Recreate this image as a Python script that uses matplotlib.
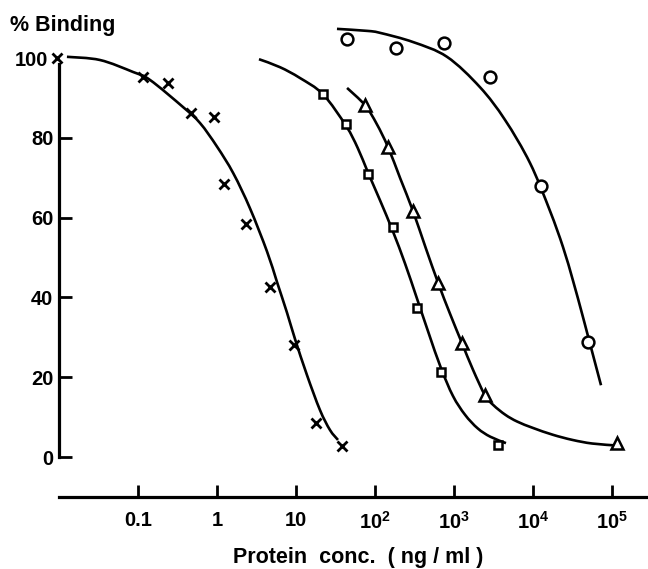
import matplotlib
matplotlib.use("Agg")
import matplotlib.pyplot as plt
from matplotlib.path import Path
from matplotlib.patches import PathPatch
import numpy as np

# ---- data ----
# crosses
cross_x = [0.0095, 0.116, 0.24, 0.47, 0.92, 1.23, 2.33, 4.7, 9.4, 17.9, 38]
cross_y = [100, 95.3, 93.8, 86.3, 85.3, 68.5, 58.5, 42.5, 28, 8.5, 2.75]
cross_curve_x = [0.0126, 0.033, 0.0865, 0.142, 0.372, 0.610, 1.0, 1.61, 2.62, 4.30,
                 5.74, 7.69, 9.71, 13.8, 20.1, 26.9, 34.0]
cross_curve_y = [100.3, 99.5, 96.5, 94.5, 87.7, 83.7, 77.8, 71.1, 62.3, 51.5,
                 43.9, 36.2, 29.6, 20.5, 11.8, 6.8, 4.3]

# squares
square_x = [22.0, 43.0, 81.5, 169, 340, 690, 3600]
square_y = [91, 83.5, 71, 57.6, 37.4, 21.3, 3]
square_curve_x = [3.40, 6.27, 11.2, 22.0, 43.0, 60.3, 81.5, 116, 169, 240, 339,
                  479, 684, 971, 1380, 1995, 2884, 4550]
square_curve_y = [99.7, 97.7, 95.0, 90.9, 83.0, 77.5, 71.3, 64.3, 56.5, 48.5, 39.8,
                  31.0, 22.3, 15.3, 10.6, 7.2, 5.1, 3.5]

# triangles
tri_x = [75, 146, 302, 630, 1260, 2460, 115000]
tri_y = [88.2, 77.7, 61.7, 43.6, 28.6, 15.5, 3.5]
tri_curve_x = [44.3, 74.6, 105, 146, 209, 302, 437, 631, 891, 1259, 1738, 2466,
               3162, 4467, 6310, 10000, 17800, 31600, 56200, 115600]
tri_curve_y = [92.5, 88.2, 83.5, 77.7, 69.8, 61.7, 52.5, 43.6, 35.9, 28.6, 21.9,
               15.5, 13.0, 10.6, 8.9, 7.3, 5.6, 4.3, 3.4, 2.9]

# circles
circ_x = [44, 184, 747, 2860, 12600, 49700]
circ_y = [104.8, 102.5, 103.8, 95.2, 68.0, 28.8]
circ_curve_x = [33.0, 79.2, 116, 303, 815, 2130, 4420, 9160, 16400, 24000, 32100,
                41700, 49700, 72600]
circ_curve_y = [107.3, 106.8, 106.3, 104.0, 100.3, 92.7, 84.5, 73.7, 61.7, 52.6,
                44.2, 36.0, 30.3, 18.0]

xtick_vals = [0.1, 1, 10, 100, 1000, 10000, 100000]
xtick_labels = ["0.1", "1", "10", r"$10^{2}$", r"$10^{3}$", r"$10^{4}$", r"$10^{5}$"]
ytick_vals = [0, 20, 40, 60, 80, 100]
ytick_labels = ["0", "20", "40", "60", "80", "100"]

# ---- style ----
plt.rcParams["font.family"] = ["Liberation Sans", "DejaVu Sans"]
plt.rcParams["font.weight"] = "bold"
plt.rcParams["mathtext.fontset"] = "custom"
plt.rcParams["mathtext.rm"] = "Liberation Sans:bold"
plt.rcParams["mathtext.it"] = "Liberation Sans:bold"
plt.rcParams["mathtext.bf"] = "Liberation Sans:bold"

W, H = 648, 569
fig = plt.figure(figsize=(W / 100, H / 100), dpi=100)
ax = fig.add_axes([59 / W, (H - 497) / H, (648 - 59) / W, (497 - 20) / H])
ax.set_xscale("log")
ax.set_xlim(10 ** ((59 - 217) / 79), 10 ** ((648 - 217) / 79))
ax.set_ylim(-10, (457 - 20) / 3.99)


def smooth_curve(xs, ys, lw):
    """Draw a smooth Bezier path through the traced points (in log-x space)."""
    lx = np.log10(np.asarray(xs, float))
    yy = np.asarray(ys, float)
    sx, sy = 79.0, 3.99
    P = np.column_stack([lx * sx, yy * sy])
    n = len(P)
    verts = [P[0]]
    codes = [Path.MOVETO]
    for i in range(n - 1):
        p0 = P[i - 1] if i > 0 else P[i]
        p1 = P[i]
        p2 = P[i + 1]
        p3 = P[i + 2] if i + 2 < n else P[i + 1]
        c1 = p1 + (p2 - p0) / 6.0
        c2 = p2 - (p3 - p1) / 6.0
        verts += [c1, c2, p2]
        codes += [Path.CURVE4] * 3
    V = np.array(verts)
    V = np.column_stack([10 ** (V[:, 0] / sx), V[:, 1] / sy])
    patch = PathPatch(Path(V, codes), facecolor="none", edgecolor="black",
                      lw=lw, capstyle="butt", zorder=2)
    ax.add_patch(patch)


lw = 1.9
k = "black"
smooth_curve(cross_curve_x, cross_curve_y, lw)
smooth_curve(square_curve_x, square_curve_y, lw)
smooth_curve(tri_curve_x, tri_curve_y, lw)
smooth_curve(circ_curve_x, circ_curve_y, lw)

ax.plot(cross_x, cross_y, ls="none", marker="x", ms=7, mew=2.0, color=k,
        clip_on=False, zorder=3)
ax.plot(square_x, square_y, ls="none", marker="s", ms=6.3, mew=1.8, mfc="white",
        mec=k, clip_on=False, zorder=3)
ax.plot(tri_x, tri_y, ls="none", marker="^", ms=8.5, mew=1.8, mfc="white",
        mec=k, clip_on=False, zorder=3)
ax.plot(circ_x, circ_y, ls="none", marker="o", ms=8.5, mew=1.8, mfc="white",
        mec=k, clip_on=False, zorder=3)

for s in ["top", "right"]:
    ax.spines[s].set_visible(False)
ax.spines["left"].set_bounds(0, 98.5)
ax.spines["left"].set_linewidth(2.3)
ax.spines["bottom"].set_linewidth(2.3)

ax.set_xticks(xtick_vals)
ax.set_xticklabels(xtick_labels)
ax.xaxis.set_minor_locator(matplotlib.ticker.NullLocator())
ax.set_yticks(ytick_vals)
ax.set_yticklabels(ytick_labels)
ax.tick_params(axis="x", direction="in", length=9, width=2, pad=10, labelsize=14.5)
ax.tick_params(axis="y", direction="in", length=9.5, width=2, pad=4, labelsize=14.5)
top_tick = ax.yaxis.get_major_ticks()[-1]
top_tick.tick1line.set_visible(False)
top_tick.set_pad(8)

fig.text(10 / W, 1 - 26 / H, "% Binding", fontsize=15.5, fontweight="bold",
         ha="left", va="center")
fig.text(358 / W, 1 - 557 / H, "Protein  conc.  ( ng / ml )", fontsize=15.5,
         fontweight="bold", ha="center", va="center")

fig.savefig("out.png", dpi=100)
